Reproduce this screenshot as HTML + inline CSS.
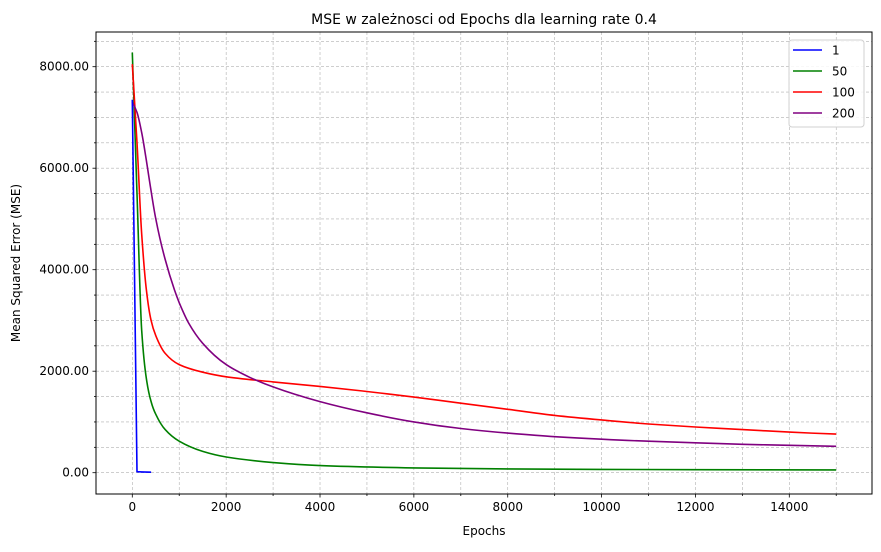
<!DOCTYPE html>
<html><head><meta charset="utf-8"><style>
body{margin:0;background:#fff;font-family:"Liberation Sans","DejaVu Sans",sans-serif}
svg text{font-family:"DejaVu Sans","Liberation Sans",sans-serif}
</style></head><body>
<svg id="c" width="881" height="547" xmlns="http://www.w3.org/2000/svg"></svg>
<script>
const seriesNames=["1","50","100","200"];
const seriesColors=["blue","green","red","purple"];
const epochs1=[0,100,200,300,400];
const mse1=[7350,20,15,12,10];
const epochs50=[0,100,200,300,400,500,700,1000,1500,2000,3000,4000,6000,8000,10000,12000,15000];
const mse50=[8280,5500,2800,1850,1400,1150,850,620,420,310,200,140,95,75,65,60,55];
const epochs100=[0,100,200,300,400,500,700,1000,1500,2000,3000,4000,5000,6000,7000,8000,9000,10000,11000,12000,13000,14000,15000];
const mse100=[8050,6500,4700,3600,3000,2700,2350,2130,1980,1890,1790,1700,1600,1490,1370,1250,1130,1040,960,900,850,800,760];
const epochs200=[0,100,200,300,400,500,700,900,1000,1200,1500,2000,2500,3000,4000,5000,6000,7000,8000,9000,10000,11000,12000,13000,14000,15000];
const mse200=[7300,7100,6700,6150,5550,5000,4200,3600,3350,2950,2550,2130,1880,1690,1400,1180,1000,870,780,710,660,620,590,560,540,520];
const xTicks=[0,2000,4000,6000,8000,10000,12000,14000];
const yTicks=[0,2000,4000,6000,8000];

const NS="http://www.w3.org/2000/svg";
const svg=document.getElementById('c');
const L=96,R=872,T=32,B=494;
const X=v=>132.3+v*(789.3-132.3)/14000;
const Y=v=>472.7-v*(472.7-66.7)/8000;
function mk(tag,attrs,parent){const e=document.createElementNS(NS,tag);for(const k in attrs)e.setAttribute(k,attrs[k]);(parent||svg).appendChild(e);return e;}
function monoPath(px,py){const n=px.length;const d=[],m=[];
 for(let i=0;i<n-1;i++)d.push((py[i+1]-py[i])/(px[i+1]-px[i]));
 m[0]=d[0];m[n-1]=d[n-2];
 for(let i=1;i<n-1;i++){if(d[i-1]*d[i]<=0)m[i]=0;else{const w1=2*(px[i+1]-px[i])+(px[i]-px[i-1]),w2=(px[i+1]-px[i])+2*(px[i]-px[i-1]);m[i]=(w1+w2)/(w1/d[i-1]+w2/d[i]);}}
 let s='M'+px[0].toFixed(1)+','+py[0].toFixed(1);
 for(let i=0;i<n-1;i++){const h=(px[i+1]-px[i])/3;
  s+=' C'+(px[i]+h).toFixed(1)+','+(py[i]+m[i]*h).toFixed(1)+' '+(px[i+1]-h).toFixed(1)+','+(py[i+1]-m[i+1]*h).toFixed(1)+' '+px[i+1].toFixed(1)+','+py[i+1].toFixed(1);}
 return s;}
const grid=mk('g',{});


for(let v=-1000;v<=16000;v+=1000){const x=X(v);if(x<L||x>R)continue;
 mk('line',{x1:x,x2:x,y1:T,y2:B,stroke:'#b0b0b0','stroke-width':0.6,'stroke-dasharray':'3,2'},grid);
 mk('line',{x1:x,x2:x,y1:B,y2:B+(v%2000?2:3.5),stroke:'#000','stroke-width':0.8});}
for(let v=-500;v<=8500;v+=500){const y=Y(v);if(y<T||y>B)continue;
 mk('line',{x1:L,x2:R,y1:y,y2:y,stroke:'#b0b0b0','stroke-width':0.6,'stroke-dasharray':'3,2'},grid);
 mk('line',{x1:L,x2:L-(v%2000?2:3.5),y1:y,y2:y,stroke:'#000','stroke-width':0.8});}
xTicks.forEach(v=>{const t=mk('text',{x:X(v),y:B+17,'font-size':12,'text-anchor':'middle'});t.textContent=v;
 });
yTicks.forEach(v=>{const t=mk('text',{x:L-7,y:Y(v)+4,'font-size':12,'text-anchor':'end'});t.textContent=v.toFixed(2);
 });
const data=[[epochs1,mse1],[epochs50,mse50],[epochs100,mse100],[epochs200,mse200]];
const order=[1,2,3,0];
order.forEach(i=>{const [xs,ys]=data[i];
 const px=xs.map(X),py=ys.map(Y);
 const dstr=i===0?('M'+px.map((x,j)=>x.toFixed(1)+','+py[j].toFixed(1)).join(' L')):monoPath(px,py);
 const p=mk('path',{d:dstr,fill:'none',stroke:seriesColors[i],'stroke-width':1.6,'stroke-linejoin':'round'});
 });
mk('rect',{x:L,y:T,width:R-L,height:B-T,fill:'none',stroke:'#000','stroke-width':1});
const lg=mk('g',{});


mk('rect',{x:789,y:40,width:75,height:87,rx:3,fill:'#fff','fill-opacity':0.85,stroke:'#d0d0d0'},lg);
seriesNames.forEach((n,i)=>{const y=50+i*21;
 mk('line',{x1:793,x2:822,y1:y,y2:y,stroke:seriesColors[i],'stroke-width':1.6},lg);
 const t=mk('text',{x:832,y:y+4.5,'font-size':12},lg);t.textContent=n;
 });
let t=mk('text',{x:484,y:24,'font-size':14,'text-anchor':'middle'});t.textContent='MSE w zależnosci od Epochs dla learning rate 0.4';

t=mk('text',{x:484,y:535,'font-size':12,'text-anchor':'middle'});t.textContent='Epochs';

t=mk('text',{x:0,y:0,'font-size':12,'text-anchor':'middle',transform:'translate(20,263) rotate(-90)'});t.textContent='Mean Squared Error (MSE)';

</script>
</body></html>
